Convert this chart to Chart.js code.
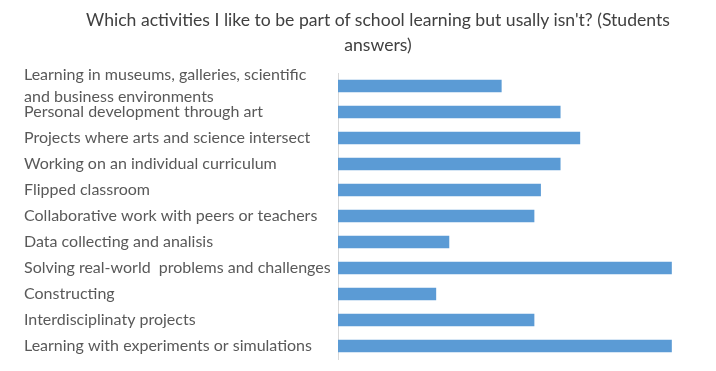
<!DOCTYPE html>
<html>
<head>
<meta charset="utf-8">
<script src="https://cdn.jsdelivr.net/npm/chart.js@4.4.0/dist/chart.umd.min.js"></script>
<style>
  html, body { margin: 0; padding: 0; background: #fff; }
  #wrap { position: relative; width: 716px; height: 371px; }
  #title {
    position: absolute; left: 40px; top: 7px; width: 676px;
    text-align: center; font-family: Lato, sans-serif; font-size: 17.6px;
    line-height: 25px; color: #404040;
  }
  canvas { position: absolute; left: 0; top: 0; }
</style>
</head>
<body>
<div id="wrap">
  <canvas id="barChart" width="716" height="371"></canvas>
  <div id="title">Which activities I like to be part of school learning but usally isn't? (Students<br>answers)</div>
</div>
<script>
// categories (top to bottom)
const activities = [
    ["Learning in museums, galleries, scientific", "and business environments"],
    "Personal development through art",
    "Projects where arts and science intersect",
    "Working on an individual curriculum",
    "Flipped classroom",
    "Collaborative work with peers or teachers",
    "Data collecting and analisis",
    "Solving real-world  problems and challenges",
    "Constructing",
    "Interdisciplinaty projects",
    "Learning with experiments or simulations"
];
// student answers
const answers = [25, 34, 37, 34, 31, 30, 17, 51, 15, 30, 51];

const ctx = document.getElementById('barChart').getContext('2d');
new Chart(ctx, {
    type: 'bar',
    data: {
        labels: activities,
        datasets: [{
            data: answers,
            backgroundColor: '#5b9bd5',
            borderWidth: 0,
            categoryPercentage: 1,
            barPercentage: 0.48
        }]
    },
    options: {
        indexAxis: 'y',
        responsive: false,
        animation: false,
        layout: { padding: { left: 24, right: 18, top: 73, bottom: 12 } },
        plugins: { legend: { display: false }, tooltip: { enabled: false } },
        scales: {
            x: { display: false, min: 0, max: 55 },
            y: {
                afterFit: (scale) => {
                    scale.width = 314;
                    // labels may hang over the plot edges, like in the original
                    scale.paddingTop = 0;
                    scale.paddingBottom = 0;
                },
                grid: { display: false },
                border: { display: true, color: '#d9d9d9', width: 1 },
                ticks: {
                    autoSkip: false,
                    crossAlign: 'far',
                    color: '#595959',
                    padding: 6,
                    font: { family: 'Lato', size: 16, lineHeight: 1.4 }
                }
            }
        }
    }
});
</script>
</body>
</html>
